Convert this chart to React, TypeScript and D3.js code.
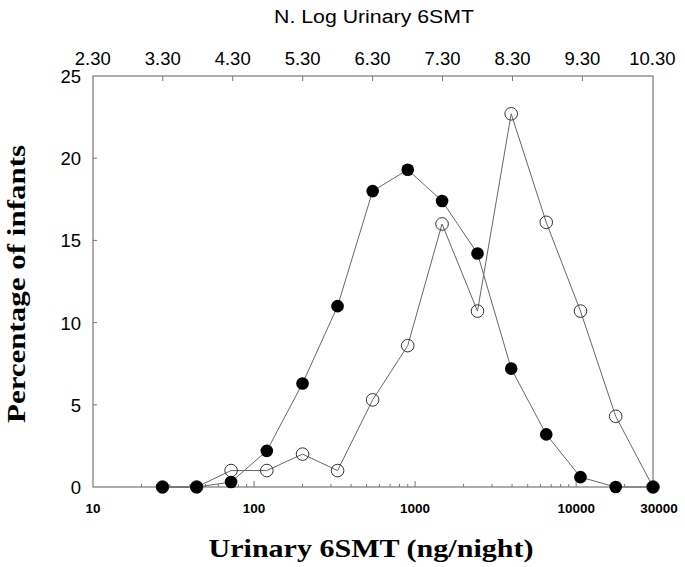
import React from "react";
import * as d3 from "d3";

const xValues = [27, 44, 72, 120, 200, 330, 545, 900, 1470, 2440, 3950, 6520, 10640, 17600, 30000];
const filledSeries = [0, 0, 0.3, 2.2, 6.3, 11.0, 18.0, 19.3, 17.4, 14.2, 7.2, 3.2, 0.6, 0, 0];
const openSeries = [0, 0, 1.0, 1.0, 2.0, 1.0, 5.3, 8.6, 16.0, 10.7, 22.7, 16.1, 10.7, 4.3, 0];
const bottomTickLabels = [10, 100, 1000, 10000, 30000];
const topTickLabels = ["2.30", "3.30", "4.30", "5.30", "6.30", "7.30", "8.30", "9.30", "10.30"];
const yTicks = [0, 5, 10, 15, 20, 25];

const W = 685;
const H = 567;
const left = 93;
const right = 653;
const top = 76;
const bottom = 487;

export default function App() {
  const x = d3.scaleLog().domain([10, 30000]).range([left, right]);
  const y = d3.scaleLinear().domain([0, 25]).range([bottom, top]);
  const xLn = d3.scaleLinear().domain([Math.log(10), Math.log(30000)]).range([left, right]);

  const minor: number[] = [];
  [10, 100, 1000, 10000].forEach((dec) => {
    for (let k = 2; k <= 9; k++) {
      const v = dec * k;
      if (v < 30000) minor.push(v);
    }
  });

  const line = d3
    .line<number>()
    .x((_, i) => x(xValues[i]))
    .y((d) => y(d));

  const stroke = "#666";

  return (
    <svg
      width={W}
      height={H}
      style={{ display: "block", background: "#fff", position: "absolute", left: 0, top: 0 }}
    >
      <rect x={left} y={top} width={right - left} height={bottom - top} fill="none" stroke="#777" strokeWidth={1.2} />
      {topTickLabels.map((t) => {
        const px = xLn(parseFloat(t));
        return (
          <g key={t}>
            {px > left + 1 && px < right - 1 && (
              <line x1={px} x2={px} y1={top} y2={top + 5} stroke="#777" />
            )}
            <text x={px} y={65} textAnchor="middle" fontFamily="Liberation Sans, Arial, sans-serif" fontSize={18.5}>
              {t}
            </text>
          </g>
        );
      })}
      <text x={374} y={23} textAnchor="middle" fontFamily="Liberation Sans, Arial, sans-serif" fontSize={18} textLength={200} lengthAdjust="spacingAndGlyphs">
        N. Log Urinary 6SMT
      </text>
      {minor.map((v) => (
        <line key={"m" + v} x1={x(v)} x2={x(v)} y1={bottom} y2={bottom - 3} stroke="#777" />
      ))}
      {[100, 1000, 10000].map((v) => (
        <line key={"M" + v} x1={x(v)} x2={x(v)} y1={bottom} y2={bottom - 6} stroke="#777" />
      ))}
      {bottomTickLabels.map((v) => (
        <text key={"bl" + v} x={x(v) + (v === 30000 ? 6 : 0)} y={513} textAnchor="middle" fontFamily="Liberation Sans, Arial, sans-serif" fontWeight="bold" fontSize={13.5}>
          {v}
        </text>
      ))}
      {yTicks.map((v) => (
        <g key={"y" + v}>
          {v > 0 && v < 25 && <line x1={left} x2={left + 4} y1={y(v)} y2={y(v)} stroke="#777" />}
          <text x={81} y={y(v) + 7} textAnchor="end" fontFamily="Liberation Sans, Arial, sans-serif" fontSize={18.5}>
            {v}
          </text>
        </g>
      ))}
      <text x={371} y={557} textAnchor="middle" fontFamily="Liberation Serif, Times New Roman, serif" fontWeight="bold" fontSize={26} textLength={325} lengthAdjust="spacingAndGlyphs">
        Urinary 6SMT (ng/night)
      </text>
      <text transform="translate(25,284) rotate(-90)" textAnchor="middle" fontFamily="Liberation Serif, Times New Roman, serif" fontWeight="bold" fontSize={26} textLength={278} lengthAdjust="spacingAndGlyphs">
        Percentage of infants
      </text>
      <path d={line(openSeries) || ""} fill="none" stroke={stroke} strokeWidth={1} />
      {openSeries.map((v, i) => (
        <circle key={"o" + i} cx={x(xValues[i])} cy={y(v)} r={6.3} fill="none" stroke="#333" strokeWidth={1} />
      ))}
      <path d={line(filledSeries) || ""} fill="none" stroke={stroke} strokeWidth={1} />
      {filledSeries.map((v, i) => (
        <circle key={"f" + i} cx={x(xValues[i])} cy={y(v)} r={6.3} fill="#000" />
      ))}
    </svg>
  );
}
